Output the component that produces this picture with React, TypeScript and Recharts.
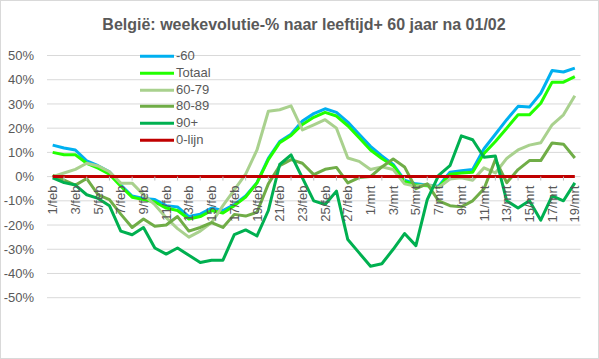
import React from 'react';
import { LineChart, Line, XAxis, YAxis, CartesianGrid, Legend } from 'recharts';

const dates = [
  '1/feb', '2/feb', '3/feb', '4/feb', '5/feb', '6/feb', '7/feb', '8/feb', '9/feb', '10/feb',
  '11/feb', '12/feb', '13/feb', '14/feb', '15/feb', '16/feb', '17/feb', '18/feb', '19/feb', '20/feb',
  '21/feb', '22/feb', '23/feb', '24/feb', '25/feb', '26/feb', '27/feb', '28/feb',
  '1/mrt', '2/mrt', '3/mrt', '4/mrt', '5/mrt', '6/mrt', '7/mrt', '8/mrt', '9/mrt', '10/mrt',
  '11/mrt', '12/mrt', '13/mrt', '14/mrt', '15/mrt', '16/mrt', '17/mrt', '18/mrt', '19/mrt',
];

const min60 = [
  13, 11.8, 11, 6.5, 4.5, 2, -3.5, -8, -9, -9.5,
  -12, -12.5, -16.5, -15.5, -13, -14, -11.5, -8, -2.5, 7.5,
  14.5, 17.5, 23, 26, 28, 26.5, 22.5, 17.5,
  12.5, 8.5, 5, -1.5, -3, -3.5, -4, 1.8, 2.4, 2.9,
  11.5, 17.5, 23.5, 29, 28.7, 34.4, 43.8, 43.2, 44.8,
];

const totaal = [
  10, 9, 9, 5.5, 3.5, 1, -4, -8.5, -9.5, -10.5,
  -13, -14, -17.5, -16.5, -14, -15, -12, -8.4, -2.6, 7,
  14, 17, 21.5, 24.5, 26.5, 25, 21, 16,
  11, 7.5, 4.5, -2, -3.5, -3.8, -4.5, 1, 1.5, 1.8,
  9.5, 14.5, 20, 25.5, 25.5, 30.3, 39, 39, 41.3,
];

const age6079 = [
  0, 1.5, 3, 5.5, 4.4, 2, -2.7, -2.7, -7.5, -11.6,
  -17, -21.5, -25, -22.5, -19, -12, -5.5, 1, 11, 27,
  27.6, 29.2, 19.3, 21.4, 23.5, 20, 7.7, 6.3,
  2.9, 4, 2.9, -3, -4, -3.3, -4.5, -1, -0.5, -1.5,
  3.6, 1.5, 7.5, 11, 13, 14, 21.4, 25.5, 33.4,
];

const age8089 = [
  0.5, -1.5, -3.5, -0.8, -7.5, -9.5, -15.5, -21, -17.5, -20.5,
  -20, -16.5, -22.5, -21, -19, -21, -15.6, -16.3, -14.7, -3,
  4.5, 7, 5.5, 0.8, 3, 3.8, -2.6, -0.4,
  0, 4, 7.3, 4, -5, -3, -10, -12, -12.5, -10,
  -5, 7, -2.5, 2.9, 6.6, 6.6, 13.9, 13.4, 7.7,
];

const age90plus = [
  -0.5, -2.5, -3.5, -7.5, -9, -12, -22.5, -24, -21, -29.5,
  -32, -29.5, -32.5, -35.5, -34.5, -34.5, -24, -22, -24.5, -14,
  5, 9, -0.5, -10, -11.5, -6, -26, -31.5,
  -37, -36, -30, -23.5, -28.5, -9.5, 0.5, 4.5, 16.8, 15.2,
  8, 8.5, -10, -13, -10, -18, -8, -10, -2.6,
];

const zeroLine = [
  0, 0, 0, 0, 0, 0, 0, 0, 0, 0,
  0, 0, 0, 0, 0, 0, 0, 0, 0, 0,
  0, 0, 0, 0, 0, 0, 0, 0,
  0, 0, 0, 0, 0, 0, 0, 0, 0, 0,
  0, 0, 0, 0, 0, 0, 0, 0, 0,
];

const yTicks = [-50, -40, -30, -20, -10, 0, 10, 20, 30, 40, 50];

const seriesNames = ['-60', 'Totaal', '60-79', '80-89', '90+', '0-lijn'];

const title = 'België: weekevolutie-% naar leeftijd+ 60 jaar na 01/02';

const data = dates.map((d, i) => ({
  date: d,
  min60: min60[i],
  totaal: totaal[i],
  a6079: age6079[i],
  a8089: age8089[i],
  a90: age90plus[i],
  zero: zeroLine[i],
}));

const W = 599;
const H = 359;
const PLOT_LEFT = 47;
const PLOT_RIGHT = 580.5;
const PLOT_TOP = 55.5;
const PLOT_BOTTOM = 297.7;
const Y_AXIS_W = 40;
const X_AXIS_H = 1;
const PLOT_H = PLOT_BOTTOM - PLOT_TOP;
const BAND = (PLOT_RIGHT - PLOT_LEFT) / dates.length;
// value 0 sits in the middle of the symmetric [-50, 50] domain
const ZERO_Y = PLOT_TOP + PLOT_H / 2;

const FONT = '"Liberation Sans", Arial, sans-serif';
const TEXT = '#595959';

function DateTick(props: any) {
  const { x, index, payload } = props;
  if (index % 2 === 1) {
    return <line x1={x} x2={x} y1={ZERO_Y} y2={ZERO_Y + 4} stroke="#BFBFBF" strokeWidth={1} />;
  }
  const ty = ZERO_Y + 9;
  return (
    <text
      x={x}
      y={ty}
      transform={`rotate(-90 ${x} ${ty})`}
      textAnchor="end"
      dy="0.35em"
      fill={TEXT}
      fontSize={13}
      fontFamily={FONT}
    >
      {payload.value}
    </text>
  );
}

function LegendBox(props: any) {
  const raw = (props.payload || []) as any[];
  const items = seriesNames
    .map((n) => raw.find((p) => p.value === n))
    .filter(Boolean) as any[];
  return (
    <div style={{ fontFamily: FONT, fontSize: 13, color: TEXT }}>
      {items.map((it) => (
        <div key={it.value} style={{ height: 16.7, display: 'flex', alignItems: 'center' }}>
          <svg width={36} height={16.7} style={{ display: 'block' }}>
            <line x1={0} x2={34} y1={8.35} y2={8.35} stroke={it.color} strokeWidth={3} />
          </svg>
          <span style={{ marginLeft: 0, lineHeight: '16.7px', whiteSpace: 'nowrap' }}>{it.value}</span>
        </div>
      ))}
    </div>
  );
}

export default function App() {
  return (
    <div style={{ position: 'absolute', left: 0, top: 0, width: W, height: H, background: '#fff' }}>
      <div
        style={{
          position: 'absolute',
          left: 0,
          top: 16,
          width: 608,
          textAlign: 'center',
          fontFamily: FONT,
          fontWeight: 'bold',
          fontSize: 16,
          color: TEXT,
          whiteSpace: 'nowrap',
        }}
      >
        {title}
      </div>
      <LineChart
        width={W}
        height={H}
        data={data}
        margin={{
          top: PLOT_TOP,
          left: PLOT_LEFT - Y_AXIS_W,
          right: W - PLOT_RIGHT,
          bottom: H - PLOT_BOTTOM - X_AXIS_H,
        }}
      >
        <CartesianGrid vertical={false} stroke="#D9D9D9" strokeWidth={1} />
        <XAxis
          dataKey="date"
          interval={0}
          height={X_AXIS_H}
          axisLine={false}
          tickLine={false}
          padding={{ left: BAND / 2, right: BAND / 2 }}
          tick={<DateTick />}
        />
        <YAxis
          width={Y_AXIS_W}
          domain={[-50, 50]}
          ticks={yTicks}
          interval={0}
          axisLine={false}
          tickLine={false}
          tickSize={6}
          tickMargin={7}
          tickFormatter={(v: number) => `${v}%`}
          tick={{ fill: TEXT, fontSize: 13, fontFamily: FONT }}
        />
        <Legend
          layout="vertical"
          align="center"
          verticalAlign="middle"
          wrapperStyle={{ position: 'absolute', left: 140, top: 48.3, width: 90, height: 'auto' }}
          content={<LegendBox />}
        />
        <Line name="-60" dataKey="min60" stroke="#00B0F0" strokeWidth={3} dot={false} activeDot={false} isAnimationActive={false} strokeLinejoin="round" />
        <Line name="Totaal" dataKey="totaal" stroke="#22FF00" strokeWidth={3} dot={false} activeDot={false} isAnimationActive={false} strokeLinejoin="round" />
        <Line name="60-79" dataKey="a6079" stroke="#A9D18E" strokeWidth={3} dot={false} activeDot={false} isAnimationActive={false} strokeLinejoin="round" />
        <Line name="80-89" dataKey="a8089" stroke="#70AD47" strokeWidth={3} dot={false} activeDot={false} isAnimationActive={false} strokeLinejoin="round" />
        <Line name="90+" dataKey="a90" stroke="#00B050" strokeWidth={3} dot={false} activeDot={false} isAnimationActive={false} strokeLinejoin="round" />
        <Line name="0-lijn" dataKey="zero" stroke="#C00000" strokeWidth={3} dot={false} activeDot={false} isAnimationActive={false} />
      </LineChart>
      <div
        style={{
          position: 'absolute',
          left: 0,
          top: 0,
          width: W,
          height: H,
          boxSizing: 'border-box',
          border: '1px solid #D9D9D9',
          pointerEvents: 'none',
        }}
      />
    </div>
  );
}
